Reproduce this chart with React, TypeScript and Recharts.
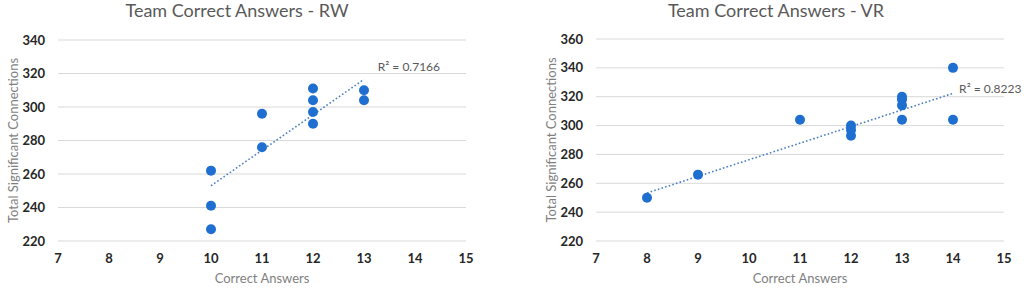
import React from 'react';
import { ScatterChart, Scatter, XAxis, YAxis, CartesianGrid, ReferenceLine, ReferenceDot } from 'recharts';

// Data
const rwX = [10, 10, 10, 11, 11, 12, 12, 12, 12, 13, 13];
const rwY = [262, 241, 227, 296, 276, 311, 304, 297, 290, 310, 304];
const vrX = [8, 9, 11, 12, 12, 12, 13, 13, 13, 13, 14, 14];
const vrY = [250, 266, 304, 300, 297, 293, 320, 318, 314, 304, 340, 304];

const xTicks = [7, 8, 9, 10, 11, 12, 13, 14, 15];
const rwYTicks = [220, 240, 260, 280, 300, 320, 340];
const vrYTicks = [220, 240, 260, 280, 300, 320, 340, 360];

// Trendline endpoints
const rwTrend = [{ x: 10, y: 253 }, { x: 13, y: 316.5 }];
const vrTrend = [{ x: 8, y: 253.3 }, { x: 14, y: 322.3 }];

const rwR2 = { x: 13.27, y: 321.5, text: 'R² = 0.7166' };
const vrR2 = { x: 14.12, y: 322.7, text: 'R² = 0.8223' };

const FONT = 'Lato, "Open Sans", sans-serif';
const POINT = '#1f6fd0';
const TREND = '#4a7ec4';

const toPoints = (xs: number[], ys: number[]) => xs.map((x, i) => ({ x, y: ys[i] }));

const Dot = (props: any) => <circle cx={props.cx} cy={props.cy} r={5} fill={POINT} />;

const tickStyle = { fill: '#262626', fontSize: 13, fontWeight: 700, fontFamily: FONT };

const YTitle = (dx: number) => (props: any) => {
  const vb = props.viewBox;
  const cx = dx;
  const cy = vb.y + vb.height / 2;
  return (
    <text x={cx} y={cy} transform={`rotate(-90 ${cx} ${cy})`} textAnchor="middle" dominantBaseline="central"
      fill="#7f7f7f" fontSize={13} fontFamily={FONT}>Total Significant  Connections</text>
  );
};

const R2Label = (text: string) => (props: any) => {
  const vb = props.viewBox;
  return (
    <text x={vb.x} y={vb.y} fill="#595959" fontSize={12} fontFamily={FONT} textAnchor="start">{text}</text>
  );
};

interface PanelProps {
  title: string;
  titleX: number;
  data: { x: number; y: number }[];
  trend: { x: number; y: number }[];
  yTicks: number[];
  yAxisWidth: number;
  rightMargin: number;
  topMargin: number;
  yTitleX: number;
  r2: { x: number; y: number; text: string };
}

const Panel = (p: PanelProps) => (
  <div style={{ position: 'relative', width: 512, height: 291 }}>
    <ScatterChart width={512} height={291} margin={{ top: p.topMargin, right: p.rightMargin, bottom: 0, left: 0 }}>
      <CartesianGrid vertical={false} stroke="#d9d9d9" strokeWidth={1} />
      <XAxis type="number" dataKey="x" domain={[7, 15]} ticks={xTicks} interval={0} axisLine={false} tickLine={false}
        tickMargin={7} height={50} tick={tickStyle}
        label={{ value: 'Correct  Answers', position: 'insideBottom', offset: 8, fill: '#7f7f7f', fontSize: 13, fontFamily: FONT }} />
      <YAxis type="number" dataKey="y" domain={[p.yTicks[0], p.yTicks[p.yTicks.length - 1]]} ticks={p.yTicks} interval={0}
        axisLine={false} tickLine={false} tickMargin={7} width={p.yAxisWidth} tick={tickStyle}
        label={{ content: YTitle(p.yTitleX) } as any} />
      <Scatter data={p.data} shape={Dot} isAnimationActive={false} />
      <ReferenceLine segment={p.trend as any} stroke={TREND} strokeWidth={1.6} strokeDasharray="1.6 2.2" ifOverflow="visible" />
      <ReferenceDot x={p.r2.x} y={p.r2.y} r={0} fill="none" stroke="none" ifOverflow="visible"
        label={{ content: R2Label(p.r2.text) } as any} />
    </ScatterChart>
    <svg width={512} height={30} style={{ position: 'absolute', left: 0, top: 0, pointerEvents: 'none' }}>
      <text x={p.titleX} y={17} textAnchor="middle" fill="#595959" fontSize={18} fontFamily={FONT}>{p.title}</text>
    </svg>
  </div>
);

export default function App() {
  return (
    <div style={{ position: 'fixed', left: 0, top: 0, width: 1024, height: 291, display: 'flex', background: '#fff' }}>
      <Panel title="Team Correct Answers - RW" titleX={237} data={toPoints(rwX, rwY)} trend={rwTrend} yTicks={rwYTicks}
        yAxisWidth={58} rightMargin={46} topMargin={40} yTitleX={13} r2={rwR2} />
      <Panel title="Team Correct Answers - VR" titleX={264} data={toPoints(vrX, vrY)} trend={vrTrend} yTicks={vrYTicks}
        yAxisWidth={84} rightMargin={20} topMargin={39} yTitleX={39} r2={vrR2} />
    </div>
  );
}
